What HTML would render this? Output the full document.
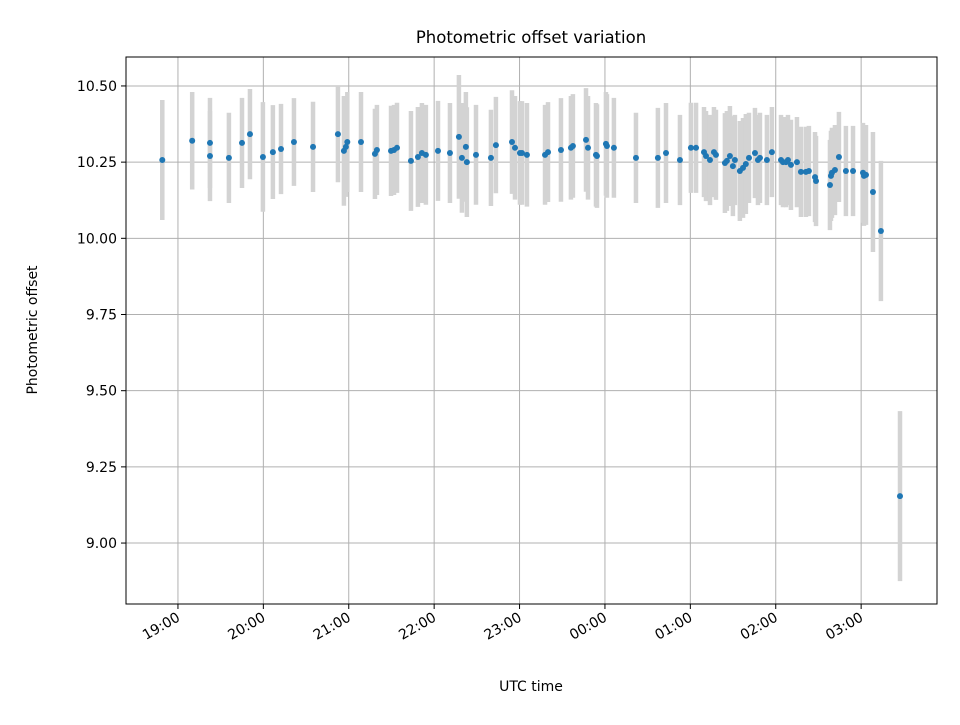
<!DOCTYPE html>
<html><head><meta charset="utf-8"><style>
body{margin:0;background:#fff;}
svg text{font-family:"DejaVu Sans","Liberation Sans",sans-serif;fill:#000;}
</style></head><body>
<svg id="chart" width="960" height="720" xmlns="http://www.w3.org/2000/svg">
<rect width="960" height="720" fill="#fff"/>
<g id="grid"></g>
<g id="errs"></g>
<g id="pts"></g>
<rect x="126" y="57" width="811" height="547" fill="none" stroke="#000" stroke-width="1"/>
<g id="axes"></g>
<text x="531" y="43" font-size="16.5" text-anchor="middle">Photometric offset variation</text>
<text x="531" y="691" font-size="14" text-anchor="middle">UTC time</text>
<text x="0" y="0" font-size="14" text-anchor="middle" transform="translate(37,330) rotate(-90)">Photometric offset</text>
</svg>
<script>
// minutes after 19:00 UTC
const times=[-11,10,22.5,22.5,35.8,45,50.6,59.7,66.7,72.4,81.5,94.9,112.4,116.6,118,119,128.6,138.4,139.8,149.7,151.8,153.9,163.7,168.6,171.4,174.2,182.7,191.1,197.4,199.5,202.3,203,209.4,219.9,223.4,234.7,236.8,240.3,241.7,245.2,257.9,260,269.1,276.1,277.5,286.7,288.1,293.7,294.4,300.7,301.4,306.3,321.8,337.2,342.9,352.7,360.4,364,369.6,371,373.8,376.6,378,384.3,385.7,387.8,389.9,391.3,394.8,397,399,401.2,405.4,407.5,408.9,413.8,417.3,423.7,425.1,427.2,428.6,430.7,434.9,437.7,441.2,443.3,447.6,448.3,458.1,458.8,459.5,461.6,464.4,469.3,474.3,481.3,482,483.4,488.3,493.9,507.3];
const offsets=[10.257,10.32,10.313,10.27,10.264,10.313,10.342,10.267,10.283,10.293,10.316,10.30,10.342,10.287,10.30,10.316,10.316,10.277,10.29,10.287,10.29,10.297,10.254,10.267,10.28,10.274,10.287,10.28,10.333,10.264,10.30,10.25,10.274,10.264,10.306,10.316,10.297,10.28,10.28,10.274,10.274,10.283,10.29,10.297,10.303,10.323,10.297,10.274,10.27,10.31,10.303,10.297,10.264,10.264,10.28,10.257,10.297,10.297,10.283,10.27,10.257,10.283,10.274,10.247,10.254,10.27,10.237,10.257,10.221,10.231,10.244,10.264,10.28,10.257,10.264,10.257,10.283,10.257,10.25,10.25,10.257,10.241,10.25,10.218,10.218,10.221,10.201,10.188,10.175,10.205,10.215,10.224,10.267,10.221,10.221,10.215,10.205,10.208,10.152,10.024,9.154];
const errors=[0.197,0.16,0.148,0.148,0.148,0.148,0.148,0.18,0.154,0.148,0.144,0.148,0.158,0.18,0.164,0.164,0.164,0.148,0.148,0.148,0.148,0.148,0.164,0.164,0.164,0.164,0.164,0.164,0.203,0.18,0.18,0.18,0.164,0.158,0.158,0.17,0.17,0.17,0.17,0.17,0.164,0.164,0.17,0.17,0.17,0.17,0.17,0.17,0.17,0.17,0.17,0.164,0.148,0.164,0.164,0.148,0.148,0.148,0.148,0.148,0.148,0.148,0.148,0.164,0.164,0.164,0.164,0.148,0.164,0.164,0.164,0.148,0.148,0.148,0.148,0.148,0.148,0.148,0.148,0.148,0.148,0.148,0.148,0.148,0.148,0.148,0.148,0.148,0.148,0.148,0.148,0.148,0.148,0.148,0.148,0.164,0.164,0.164,0.197,0.23,0.279];
const xTickMinutes=[0,60,120,180,240,300,360,420,480];
const xTickLabels=["19:00","20:00","21:00","22:00","23:00","00:00","01:00","02:00","03:00"];
const yTicks=[9.0,9.25,9.5,9.75,10.0,10.25,10.5];
const yTickLabels=["9.00","9.25","9.50","9.75","10.00","10.25","10.50"];

const L=126,R=937,T=57,B=604;
const xMin=-36.5,xMax=533.3,yMin=8.80,yMax=10.595;
const xs=m=>L+(m-xMin)/(xMax-xMin)*(R-L);
const ys=v=>B-(v-yMin)/(yMax-yMin)*(B-T);
const NS="http://www.w3.org/2000/svg";
function mk(tag,attrs,parent){const e=document.createElementNS(NS,tag);for(const k in attrs)e.setAttribute(k,attrs[k]);parent.appendChild(e);return e;}
const grid=document.getElementById('grid'),axes=document.getElementById('axes');
xTickMinutes.forEach((m,i)=>{
  const x=xs(m);
  const g=mk('line',{x1:x,x2:x,y1:T,y2:B,stroke:'#b0b0b0','stroke-width':1},grid);
  
  
  const t=mk('line',{x1:x,x2:x,y1:B,y2:B+5,stroke:'#000'},axes);
  
  
  const tx=mk('text',{x:0,y:0,'font-size':14,'text-anchor':'end',transform:`translate(${x+3},${B+16}) rotate(-30)`},axes);
  tx.textContent=xTickLabels[i];
  
  
});
yTicks.forEach((v,i)=>{
  const y=ys(v);
  const g=mk('line',{x1:L,x2:R,y1:y,y2:y,stroke:'#b0b0b0','stroke-width':1},grid);
  
  
  const t=mk('line',{x1:L-5,x2:L,y1:y,y2:y,stroke:'#000'},axes);
  
  
  const tx=mk('text',{x:L-9,y:y+5,'font-size':14,'text-anchor':'end'},axes);
  tx.textContent=yTickLabels[i];
  
  
});
const errs=document.getElementById('errs'),pts=document.getElementById('pts');
times.forEach((m,i)=>{
  const x=xs(m);
  const e=mk('line',{x1:x,x2:x,y1:ys(offsets[i]+errors[i]),y2:ys(offsets[i]-errors[i]),stroke:'#d3d3d3','stroke-width':4.5},errs);
  
  
});
times.forEach((m,i)=>{
  const c=mk('circle',{cx:xs(m),cy:ys(offsets[i]),r:3,fill:'#1f77b4'},pts);
  
  
});
</script>
</body></html>
